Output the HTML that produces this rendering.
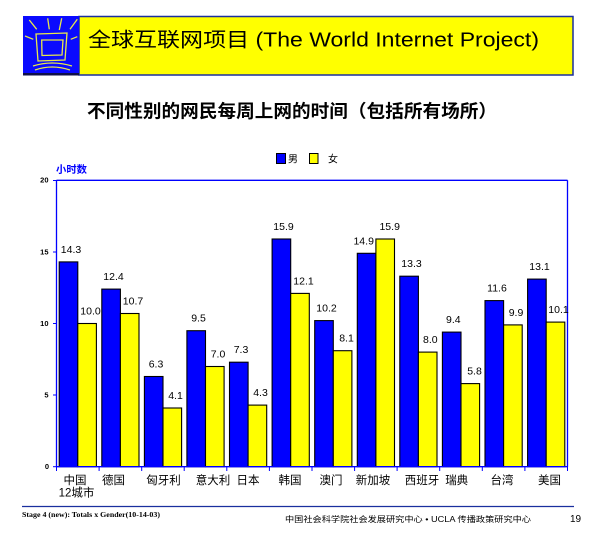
<!DOCTYPE html>
<html>
<head>
<meta charset="utf-8">
<style>
html,body{margin:0;padding:0;background:#fff;}
svg{display:block;}
text{font-family:"Liberation Sans","Noto Sans CJK SC",sans-serif;}
</style>
</head>
<body>
<svg width="600" height="540" viewBox="0 0 600 540" xmlns="http://www.w3.org/2000/svg">
<!-- Header -->
<rect x="79" y="16.5" width="494" height="58.5" fill="#ffff00" stroke="#1a2f9e" stroke-width="1.5"/>
<rect x="23" y="16" width="56" height="59.5" fill="#0a0aff"/>
<rect x="23" y="73" width="56" height="2.5" fill="#10104a"/>
<g stroke="#e8e84a" stroke-width="1.3" fill="none">
  <line x1="29.3" y1="20" x2="36.7" y2="29.3"/>
  <line x1="47.7" y1="18.3" x2="49.3" y2="29.3"/>
  <line x1="61.7" y1="18.3" x2="59.3" y2="30"/>
  <line x1="77.3" y1="19.3" x2="70" y2="29.3"/>
  <line x1="25" y1="36" x2="33.3" y2="39.3"/>
  <line x1="70.7" y1="39.3" x2="77.3" y2="36.7"/>
  <path d="M36 34 L67 33 L65 60 L38 61 Z"/>
  <path d="M41.7 40 L63 40 L62 55 L42 55.5 Z"/>
  <path d="M33 66 Q52 60 72 66"/>
  <path d="M35 70 Q52 64 70 70"/>
</g>
<text x="88" y="46.5" font-size="20" fill="#000" textLength="451" lengthAdjust="spacingAndGlyphs">全球互联网项目 (The World Internet Project)</text>

<!-- Subtitle -->
<text x="87" y="117.5" font-size="18" font-weight="bold" fill="#000" textLength="410" lengthAdjust="spacingAndGlyphs" style="font-family:'Noto Sans CJK SC',sans-serif">不同性别的网民每周上网的时间（包括所有场所）</text>

<!-- Legend -->
<rect x="276.5" y="153.5" width="9" height="10" fill="#0000ff" stroke="#000" stroke-width="1"/>
<text x="288" y="162.5" font-size="10" fill="#000">男</text>
<rect x="309.5" y="153.5" width="8.5" height="10" fill="#ffff00" stroke="#000" stroke-width="1"/>
<text x="328" y="162.5" font-size="10" fill="#000">女</text>

<!-- Y axis title -->
<text x="56" y="173" font-size="10" font-weight="bold" fill="#0000ff" textLength="31" lengthAdjust="spacingAndGlyphs">小时数</text>

<!-- Y ticks labels -->
<g font-size="7.5" fill="#000" text-anchor="end" font-weight="bold">
  <text x="48.5" y="182.5">20</text>
  <text x="48.5" y="254.5">15</text>
  <text x="48.5" y="326">10</text>
  <text x="48.5" y="397.5">5</text>
  <text x="49" y="469">0</text>
</g>
<g stroke="#0000ff" stroke-width="1">
  <line x1="53" y1="180.5" x2="56.5" y2="180.5"/>
  <line x1="53" y1="252" x2="56.5" y2="252"/>
  <line x1="53" y1="323.5" x2="56.5" y2="323.5"/>
  <line x1="53" y1="395" x2="56.5" y2="395"/>
  <line x1="53" y1="466.7" x2="56.5" y2="466.7"/>
</g>

<!-- Bars -->
<g stroke="#000" stroke-width="1.1">
  <rect x="59.2" y="261.9" width="18.6" height="204.8" fill="#0000ff"/>
  <rect x="77.8" y="323.5" width="18.6" height="143.2" fill="#ffff00"/>
  <rect x="101.8" y="289.1" width="18.6" height="177.6" fill="#0000ff"/>
  <rect x="120.4" y="313.5" width="18.6" height="153.2" fill="#ffff00"/>
  <rect x="144.4" y="376.5" width="18.6" height="90.2" fill="#0000ff"/>
  <rect x="163.0" y="408.0" width="18.6" height="58.7" fill="#ffff00"/>
  <rect x="186.9" y="330.7" width="18.6" height="136.0" fill="#0000ff"/>
  <rect x="205.5" y="366.5" width="18.6" height="100.2" fill="#ffff00"/>
  <rect x="229.5" y="362.2" width="18.6" height="104.5" fill="#0000ff"/>
  <rect x="248.1" y="405.1" width="18.6" height="61.6" fill="#ffff00"/>
  <rect x="272.1" y="239.0" width="18.6" height="227.7" fill="#0000ff"/>
  <rect x="290.7" y="293.4" width="18.6" height="173.3" fill="#ffff00"/>
  <rect x="314.7" y="320.6" width="18.6" height="146.1" fill="#0000ff"/>
  <rect x="333.3" y="350.7" width="18.6" height="116.0" fill="#ffff00"/>
  <rect x="357.3" y="253.3" width="18.6" height="213.4" fill="#0000ff"/>
  <rect x="375.9" y="239.0" width="18.6" height="227.7" fill="#ffff00"/>
  <rect x="399.8" y="276.2" width="18.6" height="190.5" fill="#0000ff"/>
  <rect x="418.4" y="352.1" width="18.6" height="114.6" fill="#ffff00"/>
  <rect x="442.4" y="332.1" width="18.6" height="134.6" fill="#0000ff"/>
  <rect x="461.0" y="383.6" width="18.6" height="83.1" fill="#ffff00"/>
  <rect x="485.0" y="300.6" width="18.6" height="166.1" fill="#0000ff"/>
  <rect x="503.6" y="324.9" width="18.6" height="141.8" fill="#ffff00"/>
  <rect x="527.6" y="279.1" width="18.6" height="187.6" fill="#0000ff"/>
  <rect x="546.2" y="322.1" width="18.6" height="144.6" fill="#ffff00"/>
</g>

<!-- Plot frame -->
<g stroke="#0000ff" stroke-width="1.3" fill="none">
  <line x1="56.5" y1="180.3" x2="567.5" y2="180.3"/>
  <line x1="567.5" y1="180.3" x2="567.5" y2="466.7"/>
  <line x1="56.5" y1="180.3" x2="56.5" y2="467"/>
  <line x1="56" y1="466.7" x2="568" y2="466.7"/>
</g>
<g stroke="#0000ff" stroke-width="1">
  <line x1="56.5" y1="466.7" x2="56.5" y2="471"/>
  <line x1="99.1" y1="466.7" x2="99.1" y2="471"/>
  <line x1="141.7" y1="466.7" x2="141.7" y2="471"/>
  <line x1="184.2" y1="466.7" x2="184.2" y2="471"/>
  <line x1="226.8" y1="466.7" x2="226.8" y2="471"/>
  <line x1="269.4" y1="466.7" x2="269.4" y2="471"/>
  <line x1="312" y1="466.7" x2="312" y2="471"/>
  <line x1="354.6" y1="466.7" x2="354.6" y2="471"/>
  <line x1="397.1" y1="466.7" x2="397.1" y2="471"/>
  <line x1="439.7" y1="466.7" x2="439.7" y2="471"/>
  <line x1="482.3" y1="466.7" x2="482.3" y2="471"/>
  <line x1="524.9" y1="466.7" x2="524.9" y2="471"/>
  <line x1="567.5" y1="466.7" x2="567.5" y2="471"/>
</g>

<!-- Value labels -->
<g font-size="10.5" fill="#000" text-anchor="middle">
  <text x="71" y="253">14.3</text>
  <text x="90.5" y="314.5">10.0</text>
  <text x="113.5" y="280">12.4</text>
  <text x="133" y="304.5">10.7</text>
  <text x="156" y="367.5">6.3</text>
  <text x="175.5" y="399">4.1</text>
  <text x="198.5" y="321.7">9.5</text>
  <text x="218" y="357.5">7.0</text>
  <text x="241" y="353">7.3</text>
  <text x="260.5" y="396">4.3</text>
  <text x="283.5" y="230">15.9</text>
  <text x="303.5" y="284.4">12.1</text>
  <text x="326.5" y="311.6">10.2</text>
  <text x="346.5" y="341.7">8.1</text>
  <text x="363.7" y="244.3">14.9</text>
  <text x="389.7" y="230">15.9</text>
  <text x="411.5" y="267.2">13.3</text>
  <text x="430.3" y="343.1">8.0</text>
  <text x="453.3" y="323.1">9.4</text>
  <text x="474.5" y="374.6">5.8</text>
  <text x="497" y="291.6">11.6</text>
  <text x="516" y="315.9">9.9</text>
  <text x="539.5" y="270.1">13.1</text>
  <text x="558.5" y="313">10.1</text>
</g>

<!-- X labels -->
<g font-size="11.5" fill="#000" text-anchor="middle" style="font-family:'Liberation Sans','Noto Sans CJK SC',sans-serif">
  <text x="75" y="484">中国</text>
  <text x="76.5" y="496.5">12城市</text>
  <text x="113.5" y="484">德国</text>
  <text x="163.5" y="484">匈牙利</text>
  <text x="213" y="484">意大利</text>
  <text x="248" y="484">日本</text>
  <text x="290" y="484">韩国</text>
  <text x="331" y="484">澳门</text>
  <text x="373" y="484">新加坡</text>
  <text x="422" y="484">西班牙</text>
  <text x="456.7" y="484">瑞典</text>
  <text x="502" y="484">台湾</text>
  <text x="549.5" y="484">美国</text>
</g>

<!-- Footer -->
<line x1="22" y1="506.5" x2="574" y2="506.5" stroke="#1a2f9e" stroke-width="1.3"/>
<text x="22" y="517" font-size="7.5" font-weight="bold" fill="#000" textLength="138" lengthAdjust="spacingAndGlyphs" style="font-family:'Liberation Serif',serif">Stage 4 (new): Totals x Gender(10-14-03)</text>
<text x="285" y="522" font-size="8" fill="#000" textLength="246" lengthAdjust="spacingAndGlyphs">中国社会科学院社会发展研究中心 • UCLA 传播政策研究中心</text>
<text x="570" y="522" font-size="10" fill="#000">19</text>
</svg>
</body>
</html>
